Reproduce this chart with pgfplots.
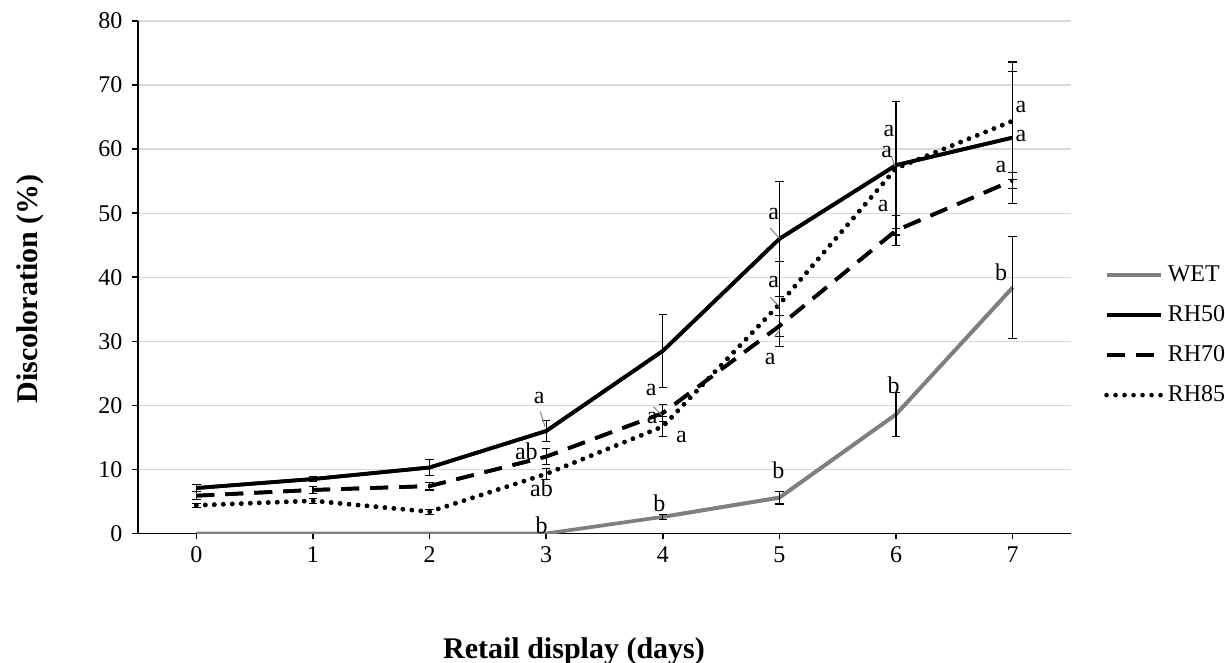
\documentclass[border=0pt]{standalone}
\usepackage{fontspec}
\setmainfont{Liberation Serif}
\usepackage{pgfplots}
\usepackage{pgfplotstable}
\pgfplotsset{compat=1.18}
\definecolor{wetgray}{HTML}{7F7F7F}
\definecolor{gridgray}{HTML}{D9D9D9}

\pgfplotstableread{
x y e
0 0 0
1 0 0
2 0 0
3 0 0
4 2.6 0.4
5 5.6 1.0
6 18.6 3.4
7 38.4 8.0
}\wet
\pgfplotstableread{
x y e
4 2.6 0.4
5 5.6 1.0
6 18.6 3.4
7 38.4 8.0
}\weterr
\pgfplotstableread{
x y e
0 7.1 0.5
1 8.5 0.4
2 10.3 1.2
3 16.0 1.6
4 28.5 5.7
5 46.0 9.0
6 57.5 9.9
7 61.8 10.3
}\rhfifty
\pgfplotstableread{
x y e
0 5.9 0.6
1 6.8 0.5
2 7.4 0.6
3 12.0 1.25
4 18.8 1.3
5 32.4 1.6
6 47.3 2.4
7 55.1 1.3
}\rhseventy
\pgfplotstableread{
x y e
0 4.4 0.3
1 5.1 0.4
2 3.4 0.4
3 9.3 0.9
4 16.7 1.6
5 35.8 6.6
6 57.0 10.4
7 64.4 9.2
}\rheightyfive

\newcommand{\tfont}{\fontsize{24}{28}\selectfont}
\begin{document}
\begin{tikzpicture}[x=1pt,y=1pt]
\useasboundingbox (0,0) rectangle (1225,663);
\begin{axis}[
  at={(138pt,129.5pt)}, anchor=south west,
  width=933pt, height=512.5pt, scale only axis,
  xmin=-0.5, xmax=7.5, ymin=0, ymax=80,
  xtick={0,...,7}, ytick={0,10,...,80},
  axis x line*=bottom, axis y line*=left,
  axis line style={black, line width=1.5pt},
  tick style={black, line width=1.5pt},
  tick align=outside, major tick length=6pt,
  ymajorgrids, grid style={draw=gridgray, line width=1.3pt},
  tick label style={font=\tfont},
  /pgf/number format/assume math mode=true,
  yticklabel style={xshift=-6pt},
  xticklabel style={yshift=-4pt},
  legend cell align=left,
  legend image code/.code={\draw[#1] (0pt,0pt) -- (54pt,0pt);},
  legend style={at={(1.0354,0.526)}, anchor=north west, draw=none, fill=none,
    inner sep=0pt, row sep=18pt, column sep=5pt, font=\tfont,
    nodes={inner sep=0pt, text height=17pt, text depth=5pt, anchor=west}},
  every axis plot/.append style={mark=none, line width=3.7pt},
  dotstyle/.style={black, line width=4.6pt, line cap=round, dash pattern=on 0pt off 9pt},
  dashstyle/.style={black, dash pattern=on 18pt off 11pt},
  err/.style={error bars/.cd, y dir=both, y explicit,
    error bar style={black, line width=1.2pt, solid},
    error mark options={black, rotate=90, mark size=4.2pt, line width=1.2pt, solid}},
]
\addplot[wetgray] table[x=x,y=y] {\wet};
\addlegendentry{WET}
\addplot[black] table[x=x,y=y] {\rhfifty};
\addlegendentry{RH50}
\addplot[dashstyle] table[x=x,y=y] {\rhseventy};
\addlegendentry{RH70}
\addplot[dotstyle] table[x=x,y=y] {\rheightyfive};
\addlegendentry{RH85}

\addplot[wetgray, forget plot, err] table[x=x,y=y,y error=e] {\weterr};
\addplot[black, forget plot, err] table[x=x,y=y,y error=e] {\rhfifty};
\addplot[dashstyle, forget plot, err] table[x=x,y=y,y error=e] {\rhseventy};
\addplot[dotstyle, forget plot, err] table[x=x,y=y,y error=e] {\rheightyfive};

\begin{scope}[gray, line width=1pt]
\draw (axis cs:2.95,19.0) -- (axis cs:2.99,16.7);
\draw (axis cs:3.92,19.8) -- (axis cs:3.99,18.5);
\draw (axis cs:4.92,47.7) -- (axis cs:4.998,46.1);
\draw (axis cs:4.92,36.9) -- (axis cs:5.0,35.4);
\draw (axis cs:4.96,30.75) -- (axis cs:5.0,31.7);
\draw (axis cs:5.96,58.9) -- (axis cs:5.99,57.3);
\end{scope}

\begin{scope}[every node/.style={font=\tfont, inner sep=0pt}]
\node at (axis cs:2.94,21.1) {a};
\node at (axis cs:2.83,12.9) {ab};
\node at (axis cs:2.96,7.1) {ab};
\node at (axis cs:2.96,1.3) {b};
\node at (axis cs:3.90,22.4) {a};
\node at (axis cs:3.91,18.0) {a};
\node at (axis cs:4.16,15.1) {a};
\node at (axis cs:3.97,4.7) {b};
\node at (axis cs:4.95,49.8) {a};
\node at (axis cs:4.95,39.3) {a};
\node at (axis cs:4.92,27.3) {a};
\node at (axis cs:4.99,9.9) {b};
\node at (axis cs:5.94,62.9) {a};
\node at (axis cs:5.92,59.6) {a};
\node at (axis cs:5.89,51.1) {a};
\node at (axis cs:5.98,23.2) {b};
\node at (axis cs:7.07,66.6) {a};
\node at (axis cs:7.07,62.1) {a};
\node at (axis cs:6.90,57.2) {a};
\node at (axis cs:6.90,40.7) {b};
\end{scope}
\end{axis}
\node[font=\bfseries\fontsize{30}{34}\selectfont] at (574,12) {Retail display (days)};
\node[font=\bfseries\fontsize{30}{34}\selectfont, rotate=90] at (30,374) {Discoloration (\%)};
\end{tikzpicture}
\end{document}
